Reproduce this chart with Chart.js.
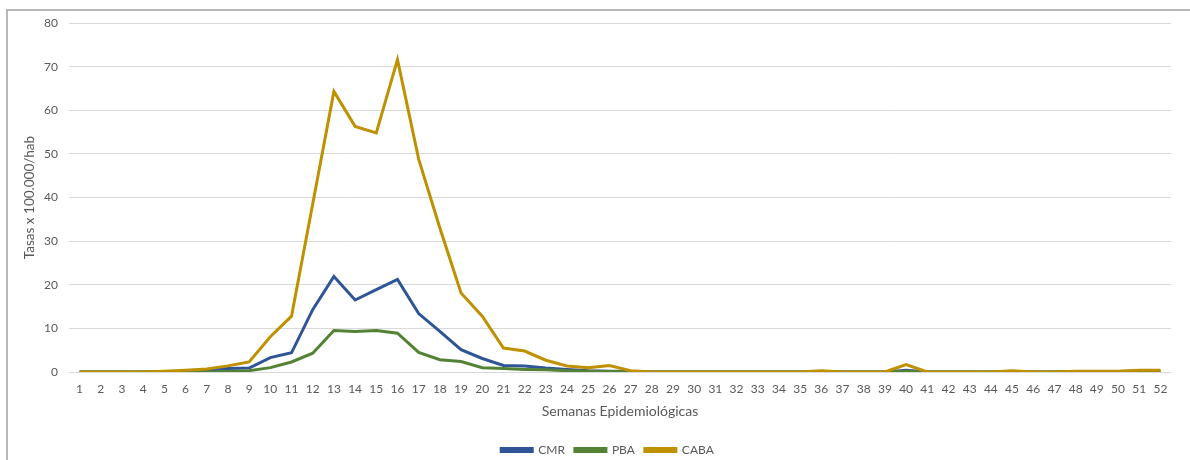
<!DOCTYPE html>
<html>
<head>
<meta charset="utf-8">
<script src="https://cdn.jsdelivr.net/npm/chart.js@4.4.1/dist/chart.umd.min.js"></script>
<style>
  html, body { margin: 0; padding: 0; background: #ffffff; overflow: hidden; }
  #wrap { position: absolute; left: 0; top: 0; width: 1190px; height: 460px; }
  #frame { position: absolute; left: 6px; top: 9px; width: 1200px; height: 500px;
           border: 2px solid #b8b8b8; box-sizing: border-box; }
</style>
</head>
<body>
<div id="frame"></div>
<div id="wrap"><canvas id="chart" width="1190" height="460"></canvas></div>
<script>
// DATA
const weeks = Array.from({ length: 52 }, (_, i) => String(i + 1));

const cmr = [
    0, 0, 0, 0, 0.1, 0.1, 0.3, 0.8, 0.9, 3.3,
    4.4, 14.3, 21.9, 16.5, 18.9, 21.2, 13.4, 9.3, 5.1, 3.1,
    1.5, 1.4, 0.9, 0.6, 0.3, 0.2, 0.1, 0, 0, 0,
    0, 0, 0, 0, 0, 0, 0, 0, 0, 0.4,
    0, 0, 0, 0, 0, 0, 0, 0.1, 0.1, 0.1,
    0.2, 0.2
];

const pba = [
    0, 0, 0, 0, 0, 0, 0, 0.1, 0.3, 1.0,
    2.3, 4.3, 9.5, 9.3, 9.5, 8.9, 4.5, 2.8, 2.4, 1.0,
    0.8, 0.6, 0.5, 0.3, 0.2, 0.1, 0.1, 0, 0, 0,
    0, 0, 0, 0, 0, 0, 0, 0, 0, 0.2,
    0, 0, 0, 0, 0, 0, 0, 0.1, 0.1, 0.1,
    0.2, 0.2
];

const caba = [
    0, 0, 0, 0, 0.2, 0.4, 0.7, 1.4, 2.3, 8.1,
    12.8, 38.5, 64.3, 56.3, 54.8, 71.6, 48.8, 33, 18.1, 12.8,
    5.5, 4.8, 2.7, 1.4, 1.0, 1.5, 0.3, 0, 0, 0,
    0, 0, 0, 0, 0, 0.3, 0, 0, 0, 1.7,
    0, 0, 0, 0, 0.3, 0, 0, 0.2, 0.2, 0.2,
    0.4, 0.4
];

const yTicks = [0, 10, 20, 30, 40, 50, 60, 70, 80];

// LOOK
const THEME = {
    cmr: '#2F5597',
    pba: '#548235',
    caba: '#BF9000',
    text: '#595959',
    grid: '#d9d9d9',
    font: 'Lato'
};

Chart.defaults.font.family = THEME.font;
Chart.defaults.color = THEME.text;

function series(label, data, color, order) {
    return {
        label: label,
        data: data,
        borderColor: color,
        backgroundColor: color,
        borderWidth: 3,
        pointRadius: 0,
        tension: 0,
        order: order
    };
}

// legend sits a bit right of centre in the original
const legendShift = {
    id: 'legendShift',
    afterLayout(chart) {
        chart.legend.left += 18;
        chart.legend.right += 18;
    }
};

new Chart(document.getElementById('chart'), {
    type: 'line',
    data: {
        labels: weeks,
        datasets: [
            series('CMR', cmr, THEME.cmr, 3),
            series('PBA', pba, THEME.pba, 2),
            series('CABA', caba, THEME.caba, 1)
        ]
    },
    plugins: [legendShift],
    options: {
        responsive: false,
        animation: false,
        layout: { padding: { left: 8, top: 23, right: 19, bottom: -6 } },
        scales: {
            x: {
                offset: true,
                grid: { display: false, drawTicks: false },
                border: { display: false },
                ticks: { font: { size: 12 }, color: THEME.text, padding: 10, maxRotation: 0, autoSkip: false },
                title: {
                    display: true,
                    text: 'Semanas Epidemiológicas',
                    font: { size: 14 },
                    color: THEME.text,
                    padding: { top: 0, bottom: 14 }
                },
                afterFit: s => { s.height = 62; }
            },
            y: {
                min: 0,
                max: 80,
                afterBuildTicks: s => { s.ticks = yTicks.map(v => ({ value: v })); },
                grid: { color: THEME.grid, drawTicks: false },
                border: { display: false },
                ticks: { font: { size: 12 }, color: THEME.text, padding: 11 },
                title: {
                    display: true,
                    text: 'Tasas x 100.000/hab',
                    font: { size: 13.5 },
                    color: THEME.text,
                    padding: { top: 14, bottom: 0 }
                },
                afterFit: s => { s.width = 61; }
            }
        },
        plugins: {
            legend: {
                position: 'bottom',
                labels: {
                    boxWidth: 31,
                    boxHeight: 3,
                    font: { size: 12 },
                    color: THEME.text,
                    padding: 10,
                    sort: (a, b) => a.datasetIndex - b.datasetIndex
                }
            },
            tooltip: { enabled: false }
        }
    }
});
</script>
</body>
</html>
